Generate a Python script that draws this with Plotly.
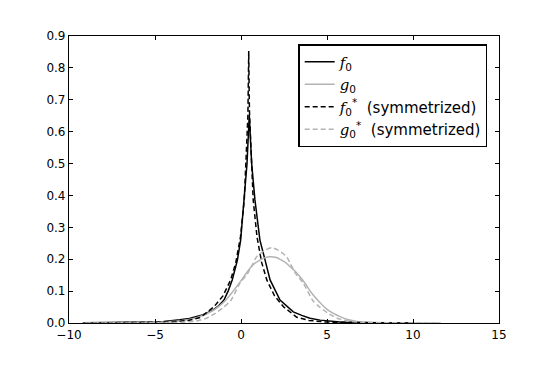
import plotly.graph_objects as go

# f0 (solid black)
f0_x = [-9.2, -8, -7, -6, -5, -4.5, -4, -3.55, -3, -2.58, -2.2, -1.61, -1.3, -0.99, -0.75,
        -0.51, -0.35, -0.21, -0.02, 0.19, 0.35, 0.48, 0.62, 0.81, 1.1, 1.4, 1.69, 2.27, 2.66,
        3.04, 3.53, 4.01, 4.6, 5.17, 5.75, 6.5, 7.5, 8.5, 10]
f0_y = [0.0004, 0.0008, 0.0013, 0.002, 0.0035, 0.005, 0.007, 0.01, 0.014, 0.02, 0.026, 0.041,
        0.054, 0.072, 0.1, 0.135, 0.165, 0.197, 0.26, 0.386, 0.50, 0.652, 0.50, 0.386, 0.26,
        0.197, 0.135, 0.072, 0.052, 0.035, 0.024, 0.015, 0.009, 0.005, 0.003, 0.0015, 0.0008,
        0.0004, 0.0001]

# g0 (solid grey)
g0_x = [-9.2, -7, -5, -3.5, -2.5, -1.6, -1.05, -0.83, -0.6, -0.2, 0.1, 0.4, 0.75, 1.1, 1.4,
        1.69, 2.0, 2.3, 2.6, 2.85, 3.15, 3.43, 3.72, 4.05, 4.4, 4.7, 5.0, 5.35, 5.76, 6.2,
        6.73, 7.5, 8.5, 10, 11.6]
g0_y = [0.0001, 0.0005, 0.002, 0.007, 0.018, 0.04, 0.063, 0.075, 0.09, 0.118, 0.14, 0.163,
        0.185, 0.197, 0.205, 0.208, 0.206, 0.199, 0.189, 0.177, 0.162, 0.145, 0.125, 0.098,
        0.075, 0.058, 0.043, 0.031, 0.02, 0.011, 0.005, 0.002, 0.0008, 0.0003, 0.0001]

# f0* (dashed black, symmetrized)
f0s_x = [-9.15, -7.55, -5.55, -4.05, -3.05, -2.34, -1.57, -1.05, -0.60, -0.30, -0.03, 0.19,
         0.40, 0.42, 0.45, 0.48, 0.50, 0.71, 0.93, 1.20, 1.50, 1.95, 2.47, 3.24, 3.95, 4.95,
         6.45, 8.45, 10.05]
f0s_y = [0.0001, 0.0003, 0.001, 0.003, 0.008, 0.018, 0.051, 0.085, 0.135, 0.19, 0.27, 0.386,
         0.65, 0.70, 0.853, 0.70, 0.65, 0.386, 0.27, 0.19, 0.135, 0.085, 0.051, 0.018, 0.008,
         0.003, 0.001, 0.0003, 0.0001]

# g0* (dashed grey, symmetrized)
g0s_x = [-9.1, -7.2, -5.2, -3.7, -2.7, -2.0, -1.5, -1.0, -0.6, -0.06, 0.38, 0.68, 0.91, 1.38,
         1.78, 2.18, 2.65, 2.88, 3.18, 3.62, 4.18, 4.58, 5.08, 5.58, 6.28, 7.28, 8.78, 10.78,
         11.6]
g0s_y = [0.00003, 0.0001, 0.0005, 0.0018, 0.0055, 0.015, 0.03, 0.05, 0.07, 0.125, 0.155,
         0.185, 0.208, 0.228, 0.236, 0.228, 0.208, 0.185, 0.155, 0.125, 0.07, 0.05, 0.03,
         0.015, 0.0055, 0.0018, 0.0005, 0.0001, 0.00003]

grey = "#b3b3b3"
serif = "<span style='font-family:DejaVu Serif'><i>%s</i></span>"

names = [
    serif % "f" + "<sub>0</sub>",
    serif % "g" + "<sub>0</sub>",
    serif % "f" + "<sub>0</sub><sup>*</sup>  (symmetrized)",
    serif % "g" + "<sub>0</sub><sup>*</sup>  (symmetrized)",
]

fig = go.Figure()
fig.add_trace(go.Scatter(x=f0_x, y=f0_y, mode="lines", name=names[0], legendgroup="a",
                         line=dict(color="black", width=1.5)))
fig.add_trace(go.Scatter(x=g0_x, y=g0_y, mode="lines", name=names[1], legendgroup="b",
                         line=dict(color=grey, width=1.5, shape="spline", smoothing=0.6)))
fig.add_trace(go.Scatter(x=f0s_x, y=f0s_y, mode="lines", name=names[2], legendgroup="c",
                         line=dict(color="black", width=1.5, dash="5px,3px")))
fig.add_trace(go.Scatter(x=g0s_x, y=g0s_y, mode="lines", name=names[3], legendgroup="d",
                         line=dict(color=grey, width=1.5, dash="5px,3px", shape="spline",
                                   smoothing=0.6)))

axis = dict(showline=True, linecolor="black", linewidth=1.2, mirror="ticks",
            ticks="inside", ticklen=4, tickcolor="black", tickwidth=1,
            showgrid=False, zeroline=False, tickfont=dict(size=12, color="black"))

# the page body has an 8px margin, so the figure is shrunk and shifted to match
fig.update_layout(
    width=547, height=362,
    margin=dict(l=61, r=56, t=28, b=47),
    paper_bgcolor="white", plot_bgcolor="white",
    font=dict(family="DejaVu Sans", size=12, color="black"),
    showlegend=True,
    legend=dict(x=0.533, y=0.972, xanchor="left", yanchor="top",
                bordercolor="black", borderwidth=1.5, bgcolor="white",
                font=dict(size=15), tracegroupgap=0, traceorder="grouped",
                itemwidth=30),
    xaxis=dict(range=[-10, 15], dtick=5, **axis),
    yaxis=dict(range=[0, 0.9], dtick=0.1, tickformat=".1f", **axis),
)

fig.write_html("out.html")
